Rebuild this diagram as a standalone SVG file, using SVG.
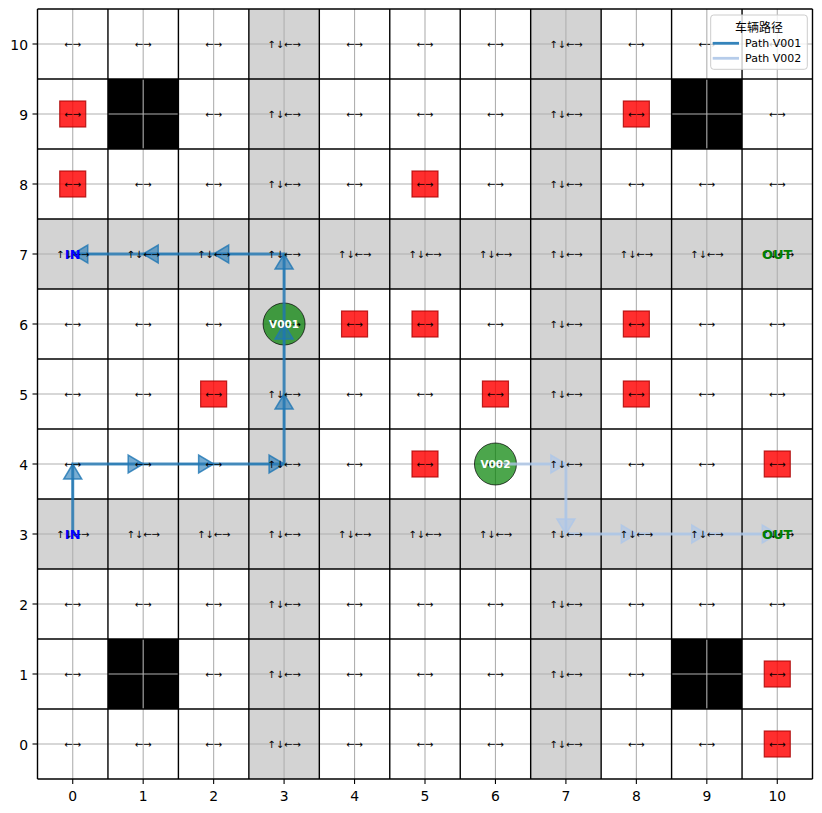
<svg xmlns="http://www.w3.org/2000/svg" width="822" height="813" viewBox="0 0 822 813">
<style>
.t{font-family:"DejaVu Sans",sans-serif;font-size:10px;text-anchor:middle;fill:#000}
.tk{font-family:"DejaVu Sans",sans-serif;font-size:13.9px;fill:#000}
.gl{stroke:#b0b0b0;stroke-width:1.1}
.bl{stroke:#000;stroke-width:1.4}
.ob{fill:#ff0000;fill-opacity:0.82;stroke:#a80000;stroke-opacity:0.8;stroke-width:1.2}
.veh{fill:#008000;fill-opacity:0.7;stroke:#000;stroke-opacity:0.7;stroke-width:1}
.vl{font-family:"DejaVu Sans",sans-serif;font-size:10.5px;font-weight:bold;fill:#fff;text-anchor:middle}
.in{font-family:"DejaVu Sans",sans-serif;font-size:13px;font-weight:bold;fill:#0000ff;text-anchor:middle}
.out{font-family:"DejaVu Sans",sans-serif;font-size:13px;font-weight:bold;fill:#008000;text-anchor:middle}
.p1{fill:none;stroke:#1f77b4;stroke-opacity:0.8;stroke-width:3;stroke-linejoin:miter}
.p2{fill:none;stroke:#aec7e8;stroke-opacity:0.8;stroke-width:3;stroke-linejoin:miter}
.s1{stroke:#1f77b4;stroke-opacity:0.5;stroke-width:2}
.s2{stroke:#aec7e8;stroke-opacity:0.5;stroke-width:2}
.h1{fill:#1f77b4;fill-opacity:0.6;stroke:#1f77b4;stroke-opacity:0.8;stroke-width:1.5;stroke-linejoin:miter}
.h2{fill:#aec7e8;fill-opacity:0.6;stroke:#aec7e8;stroke-opacity:0.8;stroke-width:1.5;stroke-linejoin:miter}
.tm{stroke:#000;stroke-width:1.1}
</style>
<rect x="0" y="0" width="822" height="813" fill="#fff"/>
<g id="cells">
<rect x="37.5" y="9" width="775" height="770" fill="#fff"/>
<rect x="248.86" y="9" width="70.46" height="770" fill="#d3d3d3"/>
<rect x="530.68" y="9" width="70.46" height="770" fill="#d3d3d3"/>
<rect x="37.5" y="219" width="775" height="70" fill="#d3d3d3"/>
<rect x="37.5" y="499" width="775" height="70" fill="#d3d3d3"/>
<rect x="107.95" y="79" width="70.46" height="70" fill="#000"/>
<rect x="671.59" y="79" width="70.46" height="70" fill="#000"/>
<rect x="107.95" y="639" width="70.46" height="70" fill="#000"/>
<rect x="671.59" y="639" width="70.46" height="70" fill="#000"/>
</g>
<g id="grid">
<line class="gl" x1="72.73" y1="9" x2="72.73" y2="779"/>
<line class="gl" x1="143.18" y1="9" x2="143.18" y2="779"/>
<line class="gl" x1="213.64" y1="9" x2="213.64" y2="779"/>
<line class="gl" x1="284.09" y1="9" x2="284.09" y2="779"/>
<line class="gl" x1="354.55" y1="9" x2="354.55" y2="779"/>
<line class="gl" x1="425" y1="9" x2="425" y2="779"/>
<line class="gl" x1="495.45" y1="9" x2="495.45" y2="779"/>
<line class="gl" x1="565.91" y1="9" x2="565.91" y2="779"/>
<line class="gl" x1="636.36" y1="9" x2="636.36" y2="779"/>
<line class="gl" x1="706.82" y1="9" x2="706.82" y2="779"/>
<line class="gl" x1="777.27" y1="9" x2="777.27" y2="779"/>
<line class="gl" x1="37.5" y1="44" x2="812.5" y2="44"/>
<line class="gl" x1="37.5" y1="114" x2="812.5" y2="114"/>
<line class="gl" x1="37.5" y1="184" x2="812.5" y2="184"/>
<line class="gl" x1="37.5" y1="254" x2="812.5" y2="254"/>
<line class="gl" x1="37.5" y1="324" x2="812.5" y2="324"/>
<line class="gl" x1="37.5" y1="394" x2="812.5" y2="394"/>
<line class="gl" x1="37.5" y1="464" x2="812.5" y2="464"/>
<line class="gl" x1="37.5" y1="534" x2="812.5" y2="534"/>
<line class="gl" x1="37.5" y1="604" x2="812.5" y2="604"/>
<line class="gl" x1="37.5" y1="674" x2="812.5" y2="674"/>
<line class="gl" x1="37.5" y1="744" x2="812.5" y2="744"/>
</g>
<g id="borders">
<line class="bl" x1="37.5" y1="9" x2="37.5" y2="779"/>
<line class="bl" x1="107.95" y1="9" x2="107.95" y2="779"/>
<line class="bl" x1="178.41" y1="9" x2="178.41" y2="779"/>
<line class="bl" x1="248.86" y1="9" x2="248.86" y2="779"/>
<line class="bl" x1="319.32" y1="9" x2="319.32" y2="779"/>
<line class="bl" x1="389.77" y1="9" x2="389.77" y2="779"/>
<line class="bl" x1="460.23" y1="9" x2="460.23" y2="779"/>
<line class="bl" x1="530.68" y1="9" x2="530.68" y2="779"/>
<line class="bl" x1="601.14" y1="9" x2="601.14" y2="779"/>
<line class="bl" x1="671.59" y1="9" x2="671.59" y2="779"/>
<line class="bl" x1="742.05" y1="9" x2="742.05" y2="779"/>
<line class="bl" x1="812.5" y1="9" x2="812.5" y2="779"/>
<line class="bl" x1="37.5" y1="9" x2="812.5" y2="9"/>
<line class="bl" x1="37.5" y1="79" x2="812.5" y2="79"/>
<line class="bl" x1="37.5" y1="149" x2="812.5" y2="149"/>
<line class="bl" x1="37.5" y1="219" x2="812.5" y2="219"/>
<line class="bl" x1="37.5" y1="289" x2="812.5" y2="289"/>
<line class="bl" x1="37.5" y1="359" x2="812.5" y2="359"/>
<line class="bl" x1="37.5" y1="429" x2="812.5" y2="429"/>
<line class="bl" x1="37.5" y1="499" x2="812.5" y2="499"/>
<line class="bl" x1="37.5" y1="569" x2="812.5" y2="569"/>
<line class="bl" x1="37.5" y1="639" x2="812.5" y2="639"/>
<line class="bl" x1="37.5" y1="709" x2="812.5" y2="709"/>
<line class="bl" x1="37.5" y1="779" x2="812.5" y2="779"/>
</g>
<g id="obstacles">
<rect class="ob" x="59.73" y="101" width="26" height="26"/>
<rect class="ob" x="59.73" y="171" width="26" height="26"/>
<rect class="ob" x="623.36" y="101" width="26" height="26"/>
<rect class="ob" x="412" y="171" width="26" height="26"/>
<rect class="ob" x="341.55" y="311" width="26" height="26"/>
<rect class="ob" x="412" y="311" width="26" height="26"/>
<rect class="ob" x="623.36" y="311" width="26" height="26"/>
<rect class="ob" x="200.64" y="381" width="26" height="26"/>
<rect class="ob" x="482.45" y="381" width="26" height="26"/>
<rect class="ob" x="623.36" y="381" width="26" height="26"/>
<rect class="ob" x="412" y="451" width="26" height="26"/>
<rect class="ob" x="764.27" y="451" width="26" height="26"/>
<rect class="ob" x="764.27" y="661" width="26" height="26"/>
<rect class="ob" x="764.27" y="731" width="26" height="26"/>
</g>
<g id="node-V001"><circle class="veh" cx="284.09" cy="324" r="21"/></g>
<g id="node-V002"><circle class="veh" cx="495.45" cy="464" r="21"/></g>
<g id="connectors">
<g id="path-V001">
<polyline class="p1" points="72.73,534 72.73,464 284.09,464 284.09,254 72.73,254"/>
<line class="s1" x1="72.73" y1="499" x2="72.73" y2="479"/>
<line class="s1" x1="107.95" y1="464" x2="128.18" y2="464"/>
<line class="s1" x1="178.41" y1="464" x2="198.64" y2="464"/>
<line class="s1" x1="248.86" y1="464" x2="269.09" y2="464"/>
<line class="s1" x1="284.09" y1="429" x2="284.09" y2="409"/>
<line class="s1" x1="284.09" y1="359" x2="284.09" y2="339"/>
<line class="s1" x1="284.09" y1="289" x2="284.09" y2="269"/>
<line class="s1" x1="248.86" y1="254" x2="228.64" y2="254"/>
<line class="s1" x1="178.41" y1="254" x2="158.18" y2="254"/>
<line class="s1" x1="107.95" y1="254" x2="87.73" y2="254"/>
<polygon class="h1" points="72.73,464 63.73,479 81.73,479"/>
<polygon class="h1" points="143.18,464 128.18,455 128.18,473"/>
<polygon class="h1" points="213.64,464 198.64,455 198.64,473"/>
<polygon class="h1" points="284.09,464 269.09,455 269.09,473"/>
<polygon class="h1" points="284.09,394 275.09,409 293.09,409"/>
<polygon class="h1" points="284.09,324 275.09,339 293.09,339"/>
<polygon class="h1" points="284.09,254 275.09,269 293.09,269"/>
<polygon class="h1" points="213.64,254 228.64,245 228.64,263"/>
<polygon class="h1" points="143.18,254 158.18,245 158.18,263"/>
<polygon class="h1" points="72.73,254 87.73,245 87.73,263"/>
</g>
<g id="path-V002">
<polyline class="p2" points="495.45,464 565.91,464 565.91,534 777.27,534"/>
<line class="s2" x1="530.68" y1="464" x2="550.91" y2="464"/>
<line class="s2" x1="565.91" y1="499" x2="565.91" y2="519"/>
<line class="s2" x1="601.14" y1="534" x2="621.36" y2="534"/>
<line class="s2" x1="671.59" y1="534" x2="691.82" y2="534"/>
<line class="s2" x1="742.05" y1="534" x2="762.27" y2="534"/>
<polygon class="h2" points="565.91,464 550.91,455 550.91,473"/>
<polygon class="h2" points="565.91,534 556.91,519 574.91,519"/>
<polygon class="h2" points="636.36,534 621.36,525 621.36,543"/>
<polygon class="h2" points="706.82,534 691.82,525 691.82,543"/>
<polygon class="h2" points="777.27,534 762.27,525 762.27,543"/>
</g>
</g>
<g id="cell-labels">
<text class="t" x="72.73" y="47.5">←→</text><text class="t" x="143.18" y="47.5">←→</text><text class="t" x="213.64" y="47.5">←→</text><text class="t" x="284.09" y="47.5">↑↓←→</text><text class="t" x="354.55" y="47.5">←→</text><text class="t" x="425" y="47.5">←→</text><text class="t" x="495.45" y="47.5">←→</text><text class="t" x="565.91" y="47.5">↑↓←→</text><text class="t" x="636.36" y="47.5">←→</text><text class="t" x="706.82" y="47.5">←→</text><text class="t" x="777.27" y="47.5">←→</text>
<text class="t" x="72.73" y="117.5">←→</text><text class="t" x="213.64" y="117.5">←→</text><text class="t" x="284.09" y="117.5">↑↓←→</text><text class="t" x="354.55" y="117.5">←→</text><text class="t" x="425" y="117.5">←→</text><text class="t" x="495.45" y="117.5">←→</text><text class="t" x="565.91" y="117.5">↑↓←→</text><text class="t" x="636.36" y="117.5">←→</text><text class="t" x="777.27" y="117.5">←→</text>
<text class="t" x="72.73" y="187.5">←→</text><text class="t" x="143.18" y="187.5">←→</text><text class="t" x="213.64" y="187.5">←→</text><text class="t" x="284.09" y="187.5">↑↓←→</text><text class="t" x="354.55" y="187.5">←→</text><text class="t" x="425" y="187.5">←→</text><text class="t" x="495.45" y="187.5">←→</text><text class="t" x="565.91" y="187.5">↑↓←→</text><text class="t" x="636.36" y="187.5">←→</text><text class="t" x="706.82" y="187.5">←→</text><text class="t" x="777.27" y="187.5">←→</text>
<text class="t" x="72.73" y="257.5">↑↓←→</text><text class="t" x="143.18" y="257.5">↑↓←→</text><text class="t" x="213.64" y="257.5">↑↓←→</text><text class="t" x="284.09" y="257.5">↑↓←→</text><text class="t" x="354.55" y="257.5">↑↓←→</text><text class="t" x="425" y="257.5">↑↓←→</text><text class="t" x="495.45" y="257.5">↑↓←→</text><text class="t" x="565.91" y="257.5">↑↓←→</text><text class="t" x="636.36" y="257.5">↑↓←→</text><text class="t" x="706.82" y="257.5">↑↓←→</text><text class="t" x="777.27" y="257.5">↑↓←→</text>
<text class="t" x="72.73" y="327.5">←→</text><text class="t" x="143.18" y="327.5">←→</text><text class="t" x="213.64" y="327.5">←→</text><text class="t" x="284.09" y="327.5">↑↓←→</text><text class="t" x="354.55" y="327.5">←→</text><text class="t" x="425" y="327.5">←→</text><text class="t" x="495.45" y="327.5">←→</text><text class="t" x="565.91" y="327.5">↑↓←→</text><text class="t" x="636.36" y="327.5">←→</text><text class="t" x="706.82" y="327.5">←→</text><text class="t" x="777.27" y="327.5">←→</text>
<text class="t" x="72.73" y="397.5">←→</text><text class="t" x="143.18" y="397.5">←→</text><text class="t" x="213.64" y="397.5">←→</text><text class="t" x="284.09" y="397.5">↑↓←→</text><text class="t" x="354.55" y="397.5">←→</text><text class="t" x="425" y="397.5">←→</text><text class="t" x="495.45" y="397.5">←→</text><text class="t" x="565.91" y="397.5">↑↓←→</text><text class="t" x="636.36" y="397.5">←→</text><text class="t" x="706.82" y="397.5">←→</text><text class="t" x="777.27" y="397.5">←→</text>
<text class="t" x="72.73" y="467.5">←→</text><text class="t" x="143.18" y="467.5">←→</text><text class="t" x="213.64" y="467.5">←→</text><text class="t" x="284.09" y="467.5">↑↓←→</text><text class="t" x="354.55" y="467.5">←→</text><text class="t" x="425" y="467.5">←→</text><text class="t" x="495.45" y="467.5">←→</text><text class="t" x="565.91" y="467.5">↑↓←→</text><text class="t" x="636.36" y="467.5">←→</text><text class="t" x="706.82" y="467.5">←→</text><text class="t" x="777.27" y="467.5">←→</text>
<text class="t" x="72.73" y="537.5">↑↓←→</text><text class="t" x="143.18" y="537.5">↑↓←→</text><text class="t" x="213.64" y="537.5">↑↓←→</text><text class="t" x="284.09" y="537.5">↑↓←→</text><text class="t" x="354.55" y="537.5">↑↓←→</text><text class="t" x="425" y="537.5">↑↓←→</text><text class="t" x="495.45" y="537.5">↑↓←→</text><text class="t" x="565.91" y="537.5">↑↓←→</text><text class="t" x="636.36" y="537.5">↑↓←→</text><text class="t" x="706.82" y="537.5">↑↓←→</text><text class="t" x="777.27" y="537.5">↑↓←→</text>
<text class="t" x="72.73" y="607.5">←→</text><text class="t" x="143.18" y="607.5">←→</text><text class="t" x="213.64" y="607.5">←→</text><text class="t" x="284.09" y="607.5">↑↓←→</text><text class="t" x="354.55" y="607.5">←→</text><text class="t" x="425" y="607.5">←→</text><text class="t" x="495.45" y="607.5">←→</text><text class="t" x="565.91" y="607.5">↑↓←→</text><text class="t" x="636.36" y="607.5">←→</text><text class="t" x="706.82" y="607.5">←→</text><text class="t" x="777.27" y="607.5">←→</text>
<text class="t" x="72.73" y="677.5">←→</text><text class="t" x="213.64" y="677.5">←→</text><text class="t" x="284.09" y="677.5">↑↓←→</text><text class="t" x="354.55" y="677.5">←→</text><text class="t" x="425" y="677.5">←→</text><text class="t" x="495.45" y="677.5">←→</text><text class="t" x="565.91" y="677.5">↑↓←→</text><text class="t" x="636.36" y="677.5">←→</text><text class="t" x="777.27" y="677.5">←→</text>
<text class="t" x="72.73" y="747.5">←→</text><text class="t" x="143.18" y="747.5">←→</text><text class="t" x="213.64" y="747.5">←→</text><text class="t" x="284.09" y="747.5">↑↓←→</text><text class="t" x="354.55" y="747.5">←→</text><text class="t" x="425" y="747.5">←→</text><text class="t" x="495.45" y="747.5">←→</text><text class="t" x="565.91" y="747.5">↑↓←→</text><text class="t" x="636.36" y="747.5">←→</text><text class="t" x="706.82" y="747.5">←→</text><text class="t" x="777.27" y="747.5">←→</text>
</g>
<g id="endpoints">
<text class="in" x="72.73" y="258.7">IN</text>
<text class="in" x="72.73" y="538.7">IN</text>
<text class="out" x="777.27" y="258.7">OUT</text>
<text class="out" x="777.27" y="538.7">OUT</text>
</g>
<g id="vehicle-labels">
<text class="vl" x="284.09" y="327.8">V001</text>
<text class="vl" x="495.45" y="467.8">V002</text>
</g>
<g id="axes">
<g id="ticks">
<line class="tm" x1="72.73" y1="779" x2="72.73" y2="784"/><line class="tm" x1="143.18" y1="779" x2="143.18" y2="784"/><line class="tm" x1="213.64" y1="779" x2="213.64" y2="784"/><line class="tm" x1="284.09" y1="779" x2="284.09" y2="784"/><line class="tm" x1="354.55" y1="779" x2="354.55" y2="784"/><line class="tm" x1="425" y1="779" x2="425" y2="784"/><line class="tm" x1="495.45" y1="779" x2="495.45" y2="784"/><line class="tm" x1="565.91" y1="779" x2="565.91" y2="784"/><line class="tm" x1="636.36" y1="779" x2="636.36" y2="784"/><line class="tm" x1="706.82" y1="779" x2="706.82" y2="784"/><line class="tm" x1="777.27" y1="779" x2="777.27" y2="784"/>
<line class="tm" x1="32.5" y1="44" x2="37.5" y2="44"/><line class="tm" x1="32.5" y1="114" x2="37.5" y2="114"/><line class="tm" x1="32.5" y1="184" x2="37.5" y2="184"/><line class="tm" x1="32.5" y1="254" x2="37.5" y2="254"/><line class="tm" x1="32.5" y1="324" x2="37.5" y2="324"/><line class="tm" x1="32.5" y1="394" x2="37.5" y2="394"/><line class="tm" x1="32.5" y1="464" x2="37.5" y2="464"/><line class="tm" x1="32.5" y1="534" x2="37.5" y2="534"/><line class="tm" x1="32.5" y1="604" x2="37.5" y2="604"/><line class="tm" x1="32.5" y1="674" x2="37.5" y2="674"/><line class="tm" x1="32.5" y1="744" x2="37.5" y2="744"/>
</g>
<g id="xlabels" class="tk" text-anchor="middle">
<text x="72.73" y="801">0</text><text x="143.18" y="801">1</text><text x="213.64" y="801">2</text><text x="284.09" y="801">3</text><text x="354.55" y="801">4</text><text x="425" y="801">5</text><text x="495.45" y="801">6</text><text x="565.91" y="801">7</text><text x="636.36" y="801">8</text><text x="706.82" y="801">9</text><text x="777.27" y="801">10</text>
</g>
<g id="ylabels" class="tk" text-anchor="end">
<text x="28" y="49.5">10</text><text x="28" y="119.5">9</text><text x="28" y="189.5">8</text><text x="28" y="259.5">7</text><text x="28" y="329.5">6</text><text x="28" y="399.5">5</text><text x="28" y="469.5">4</text><text x="28" y="539.5">3</text><text x="28" y="609.5">2</text><text x="28" y="679.5">1</text><text x="28" y="749.5">0</text>
</g>
</g>
<g id="legend">
<rect x="710.7" y="15" width="96.6" height="54.3" rx="3" fill="#fff" fill-opacity="0.8" stroke="#cccccc" stroke-width="1"/>
<text x="759" y="32" font-family="'Noto Sans CJK SC', sans-serif" font-size="12px" text-anchor="middle" fill="#000">车辆路径</text>
<line x1="712.7" y1="43.3" x2="739" y2="43.3" stroke="#1f77b4" stroke-opacity="0.9" stroke-width="2.8"/>
<line x1="712.7" y1="58.3" x2="739" y2="58.3" stroke="#aec7e8" stroke-opacity="0.9" stroke-width="2.8"/>
<text x="745" y="47.3" font-family="'DejaVu Sans', sans-serif" font-size="11px" fill="#000">Path V001</text>
<text x="745" y="62.3" font-family="'DejaVu Sans', sans-serif" font-size="11px" fill="#000">Path V002</text>
</g>
</svg>
